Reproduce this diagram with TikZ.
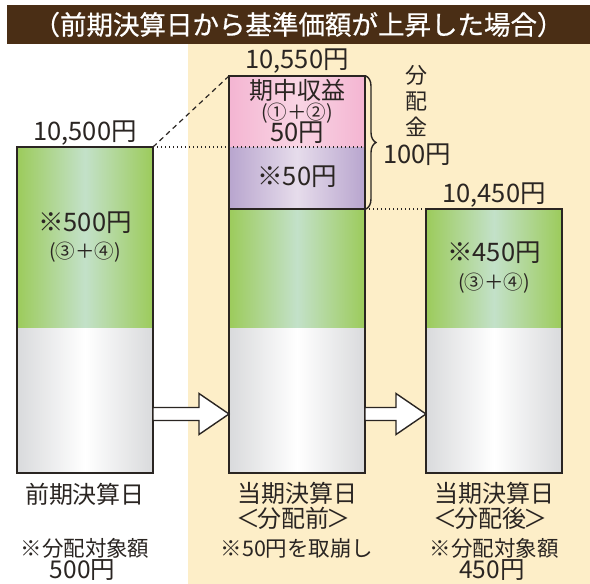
\documentclass[tikz,border=0pt]{standalone}
\usepackage{fontspec}
\setmainfont{Noto Sans CJK JP}
\newfontfamily\titlefont[FakeBold=0.6]{Noto Sans CJK JP}
\usetikzlibrary{positioning,calc,decorations.pathreplacing}

\definecolor{ink}{HTML}{2A2522}
\definecolor{titlebg}{HTML}{4A2E15}
\definecolor{panel}{HTML}{FDEEC8}
\definecolor{grn}{HTML}{9CCB5B}
\definecolor{grnmid}{HTML}{C3E1C9}
\definecolor{gry}{HTML}{D9DADC}
\definecolor{pnk}{HTML}{F4B5D2}
\definecolor{pnkmid}{HTML}{F9D5E4}
\definecolor{prp}{HTML}{B8A5CE}
\definecolor{prpmid}{HTML}{E6DCEB}

\tikzset{
  seg/.style={minimum width=136pt, inner sep=0pt, outer sep=0pt, anchor=north west},
  greenseg/.style={seg, left color=grn, right color=grn, middle color=grnmid},
  grayseg/.style={seg, left color=gry, right color=gry, middle color=white},
  pinkseg/.style={seg, left color=pnk, right color=pnk, middle color=pnkmid},
  purpleseg/.style={seg, left color=prp, right color=prp, middle color=prpmid},
  barline/.style={draw=ink, line width=1.4pt},
  dotline/.style={draw=ink, line width=1.3pt, dash pattern=on 1.3pt off 2.7pt},
  dashline/.style={draw=ink, line width=1.2pt, dash pattern=on 5pt off 4pt},
  fatarrow/.style={draw=ink, fill=white, line width=1.4pt, line join=miter},
  txt/.style={text=ink, inner sep=0pt, font=\fontsize{24}{25}\selectfont, align=center},
  note/.style={text=ink, inner sep=0pt, font=\fontsize{21.5}{22}\selectfont, align=center},
  num/.style={text=ink, inner sep=0pt, font=\fontsize{25.5}{27}\selectfont},
  circ/.style={text=ink, inner sep=0pt, font=\fontsize{19.5}{21}\selectfont}
}
\newcommand\bignum[1]{{\fontsize{24.5}{22}\selectfont #1}}

% block arrow from #1 to #2 (same height)
\newcommand\fatarr[2]{%
  \draw[fatarrow] let \p1=(#1), \p2=(#2) in
    (\x1,\y1+6.5pt) -- (\x2-30pt,\y1+6.5pt) -- (\x2-30pt,\y1+20.5pt) -- (\x2,\y1)
    -- (\x2-30pt,\y1-20.5pt) -- (\x2-30pt,\y1-6.5pt) -- (\x1,\y1-6.5pt) -- cycle;}

\begin{document}
\begin{tikzpicture}[x=1pt,y=-1pt]
\useasboundingbox (0,0) rectangle (590,584);

% background
\fill[panel] (188,44) rectangle (590,584);
\node[fill=titlebg, minimum width=583pt, minimum height=39pt, inner sep=0pt,
      text=white, font=\titlefont\fontsize{26.5}{28}\selectfont] (title) at (298.5,24.5)
      {（前期決算日から基準価額が上昇した場合）};

% previous settlement
\node[greenseg, minimum height=181pt] (lgreen) at (17,147) {};
\node[grayseg, minimum height=145pt, below=0pt of lgreen] (lgray) {};
\draw[barline] (lgreen.north west) rectangle (lgray.south east);

% current, before distribution
\node[pinkseg, minimum height=71pt] (mpink) at (229,76) {};
\node[purpleseg, minimum height=62pt, below=0pt of mpink] (mpurple) {};
\node[greenseg, minimum height=119pt, below=0pt of mpurple] (mgreen) {};
\node[grayseg, minimum height=145pt, below=0pt of mgreen] (mgray) {};
\draw[barline] (mpink.north west) rectangle (mgray.south east);
\draw[barline] (mgreen.north west) -- (mgreen.north east);

% current, after distribution
\node[greenseg, minimum height=119pt] (rgreen) at (426,209) {};
\node[grayseg, minimum height=145pt, below=0pt of rgreen] (rgray) {};
\draw[barline] (rgreen.north west) rectangle (rgray.south east);

% guide lines
\draw[dashline] (lgreen.north east) -- (mpink.north west);
\draw[dotline] (lgreen.north east) -- (mpurple.north east);
\draw[dotline] (mgreen.north east) -- (rgreen.north west);

% brace
\draw[ink, line width=1.4pt, decorate, decoration={brace, amplitude=10pt}]
  ([xshift=1pt]mpink.north east) -- ([xshift=1pt]mpurple.south east);
\node[txt, font=\fontsize{22}{26}\selectfont] (bunpai) at (416,101) {分\\配\\金};
\node[num] (bunpaiv) at (417,155) {100円};

% arrows
\coordinate (a1) at ([yshift=-13.5pt]lgray.east);
\coordinate (b1) at ([yshift=-13.5pt]mgray.west);
\coordinate (a2) at ([yshift=-13.5pt]mgray.east);
\coordinate (b2) at ([yshift=-13.5pt]rgray.west);
\fatarr{a1}{b1}
\fatarr{a2}{b2}

% values on top
\node[num, anchor=base] (lval) at (85,140) {10,500円};
\node[num, anchor=base] (mval) at (297,68) {10,550円};
\node[num, anchor=base] (rval) at (494,202) {10,450円};

% text in bars
\node[num] (lamt) at (85,223) {※500円};
\node[circ] (lsrc) at (85,252) {(③＋④)};
\node[txt] (minc) at (297,90) {期中収益};
\node[circ] (msrc) at (297,113) {(①＋②)};
\node[num] (mincv) at (297,133) {50円};
\node[num] (mres) at (297,177) {※50円};
\node[num] (ramt) at (494,253) {※450円};
\node[circ] (rsrc) at (494,283) {(③＋④)};

% labels below
\node[txt] (lday) at (85,494) {前期決算日};
\node[note, anchor=base] (lnote) at (85,578) {※分配対象額\\\bignum{500円}\kern5pt};
\node[txt] (mday) at (297,493) {当期決算日};
\node[txt] (mdayb) at (293,518) {＜\kern-3pt 分配前\kern-3pt＞};
\node[note] (mnote) at (297,548) {※50円を取崩し};
\node[txt] (rday) at (494,493) {当期決算日};
\node[txt] (rdayb) at (490,518) {＜\kern-3pt 分配後\kern-3pt＞};
\node[note, anchor=base] (rnote) at (494,578) {※分配対象額\\\bignum{450円}\kern4pt};
\end{tikzpicture}
\end{document}
